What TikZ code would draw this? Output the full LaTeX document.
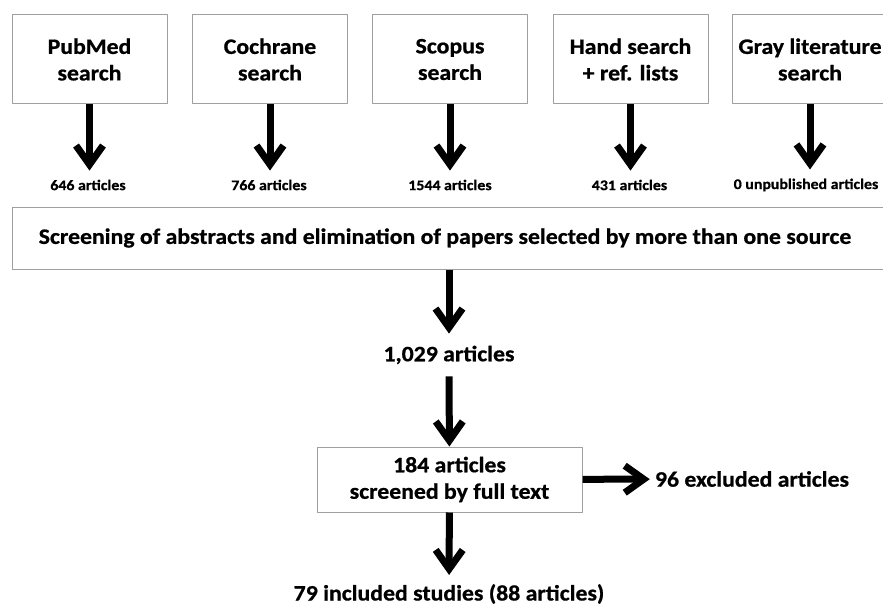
\documentclass[tikz,border=0pt]{standalone}
\usepackage{fontspec}
\setmainfont{Carlito}[FakeStretch=1.08, BoldFeatures={FakeBold=0.8}]
\usetikzlibrary{arrows.meta}
\tikzset{
  srcbox/.style={draw=gray!75, line width=1pt, fill=white, minimum width=155pt, minimum height=89pt,
    align=center, font=\bfseries\fontsize{22}{26.5}\selectfont},
  smalllbl/.style={inner sep=0pt, font=\bfseries\fontsize{14.7}{17}\selectfont},
  biglbl/.style={inner sep=0pt, font=\bfseries\fontsize{22}{26.5}\selectfont},
  bigarrow/.style={line width=7pt, -{Straight Barb[length=19pt,width=27pt]}}
}
\begin{document}
\begin{tikzpicture}[x=1pt, y=-1pt, line join=round]
  \useasboundingbox (0,0) rectangle (883,607);
  \node[srcbox] (pubmed) at (89.5,59.5) {PubMed\\search};
  \node[srcbox] (cochrane) at (270,59.5) {Cochrane\\search};
  \node[srcbox] (scopus) at (450,59.5) {Scopus\\search};
  \node[srcbox] (hand) at (630.5,59.5) {Hand search\\+ ref. lists};
  \node[srcbox] (gray) at (810,59.5) {Gray literature\\search};
  \node[smalllbl] (npubmed) at (88,185) {646 articles};
  \node[smalllbl] (ncochrane) at (269,185) {766 articles};
  \node[smalllbl] (nscopus) at (450,185) {1544 articles};
  \node[smalllbl] (nhand) at (629.5,185) {431 articles};
  \node[smalllbl] (ngray) at (806,185) {0 unpublished articles};
  \foreach \s in {pubmed,cochrane,scopus,hand,gray}
    \draw[bigarrow, shorten >=9pt] (\s.south) -- (\s.south |- n\s.north);
  \node[srcbox, anchor=west, minimum width=880pt, minimum height=62pt] (screen) at (12,238)
    {Screening of abstracts and elimination of papers selected by more than one source\hspace{15pt}};
  \node[biglbl] (ntotal) at (449,355) {1,029 articles};
  \node[srcbox, minimum width=265pt, minimum height=65pt] (fulltext) at (449.5,479.5)
    {184 articles\\screened by full text};
  \node[biglbl] (nexcl) at (752,479) {96 excluded articles};
  \node[biglbl] (nincl) at (449,594) {79 included studies (88 articles)};
  \draw[bigarrow, shorten >=12pt] (screen.south -| ntotal) -- (ntotal);
  \draw[bigarrow, shorten <=12pt] (ntotal) -- (fulltext);
  \draw[bigarrow, shorten >=9pt] (fulltext) -- (nincl);
  \draw[bigarrow, shorten >=5pt] (fulltext) -- (nexcl);
\end{tikzpicture}
\end{document}
